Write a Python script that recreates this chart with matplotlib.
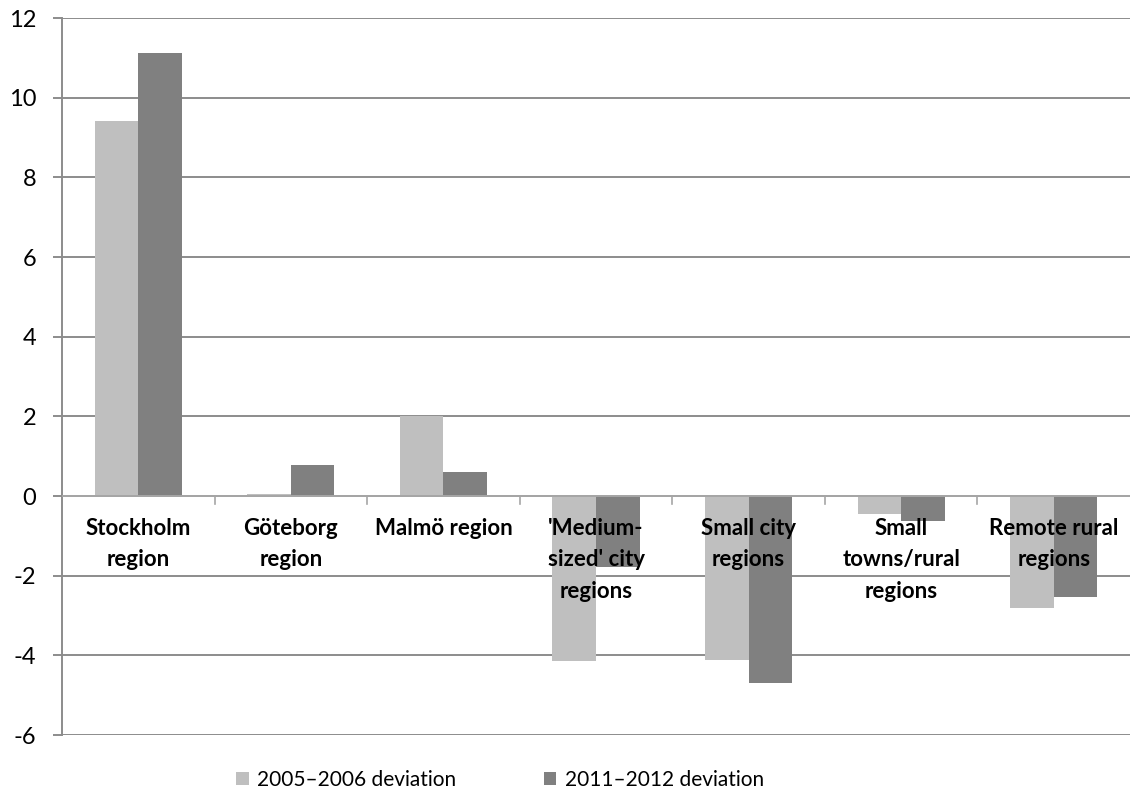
import matplotlib
matplotlib.use("Agg")
import matplotlib.pyplot as plt
import numpy as np
from matplotlib.patches import Patch

plt.rcParams['font.family'] = ['Lato', 'DejaVu Sans']

categories = ["Stockholm\nregion", "Göteborg\nregion", "Malmö region",
              "'Medium-\nsized' city\nregions", "Small city\nregions",
              "Small\ntowns/rural\nregions", "Remote rural\nregions"]
series_names = ["2005\u20132006 deviation", "2011\u20132012 deviation"]
dev_2005_2006 = [9.42, 0.06, 2.0, -4.13, -4.12, -0.46, -2.81]
dev_2011_2012 = [11.12, 0.79, 0.59, -1.77, -4.69, -0.64, -2.54]
yticks = [-6, -4, -2, 0, 2, 4, 6, 8, 10, 12]

light = "#BFBFBF"
dark = "#808080"
grid_c = "#8C8C8C"

fig = plt.figure(figsize=(11.30, 7.93), dpi=100)
ax = fig.add_axes([62/1130, 1 - 735/793, (1130 - 62)/1130, (735 - 18)/793])

x = np.arange(len(categories))
w = 1/3.5
ax.bar(x - w/2, dev_2005_2006, width=w, color=light, zorder=2)
ax.bar(x + w/2, dev_2011_2012, width=w, color=dark, zorder=2)

ax.set_xlim(-0.5, len(categories) - 0.5)
ax.set_ylim(-6, 12)
ax.set_yticks(yticks)
ax.set_yticklabels([str(t) for t in yticks], fontsize=17)
ax.yaxis.grid(True, color=grid_c, linewidth=1.4, zorder=0)
ax.set_axisbelow(True)
ax.tick_params(axis='y', length=6.5, color=grid_c, width=1.4, pad=12)
ax.set_xticks([])

for s in ['top', 'right', 'bottom']:
    ax.spines[s].set_visible(False)
ax.spines['left'].set_color(grid_c)
ax.spines['left'].set_linewidth(1.4)

# category axis at zero
ax.axhline(0, color="#A6A6A6", linewidth=1.4, zorder=3)
for b in np.arange(0.5, len(categories) - 0.5, 1.0):
    ax.plot([b, b], [0, -0.2], color="#A6A6A6", linewidth=1.2, zorder=3, clip_on=False)

for i, lab in enumerate(categories):
    ax.annotate(lab, xy=(i, 0), xytext=(0, -16), textcoords='offset points',
                ha='center', va='top', fontsize=16, fontweight='bold',
                linespacing=1.6, zorder=5)

handles = [Patch(facecolor=light, edgecolor='none'), Patch(facecolor=dark, edgecolor='none')]
fig.legend(handles, series_names, loc='center', bbox_to_anchor=(500/1130, 1 - 780/793),
           ncol=2, frameon=False, fontsize=15, handlelength=0.6, handleheight=0.6,
           handletextpad=0.4, columnspacing=4.2)

fig.savefig("out.png", dpi=100)
